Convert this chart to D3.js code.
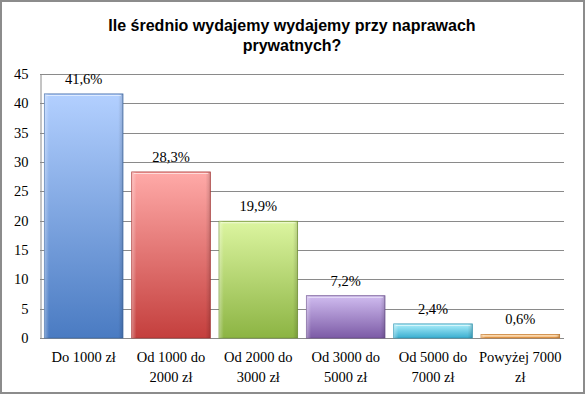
<!DOCTYPE html>
<html>
<head>
<meta charset="utf-8">
<script src="https://cdn.jsdelivr.net/npm/d3@7"></script>
<style>
  body { margin: 0; background: #fff; }
  svg { display: block; }
</style>
</head>
<body>
<div id="chart"></div>
<script>
// dane
const categories = ["Do 1000 zł", "Od 1000 do 2000 zł", "Od 2000 do 3000 zł", "Od 3000 do 5000 zł", "Od 5000 do 7000 zł", "Powyżej 7000 zł"];
const catLines = [["Do 1000 zł"], ["Od 1000 do", "2000 zł"], ["Od 2000 do", "3000 zł"], ["Od 3000 do", "5000 zł"], ["Od 5000 do", "7000 zł"], ["Powyżej 7000", "zł"]];
const values = [41.6, 28.3, 19.9, 7.2, 2.4, 0.6];
const valueLabels = ["41,6%", "28,3%", "19,9%", "7,2%", "2,4%", "0,6%"];
const yTicks = [0, 5, 10, 15, 20, 25, 30, 35, 40, 45];
const barColors = [
    ["#b3d0ff", "#4a7bc2"],
    ["#ffaaa8", "#c43f3d"],
    ["#dcf5a0", "#8cb443"],
    ["#d0bcf0", "#7c5ba6"],
    ["#aef0fc", "#3aaed0"],
    ["#ffd9a0", "#e89440"]
];

const width = 585, height = 394;
const margin = { top: 74, right: 21, bottom: 56, left: 40 };

const svg = d3.select("#chart").append("svg")
    .attr("width", width)
    .attr("height", height);

// ramka
svg.append("rect")
    .attr("x", 1).attr("y", 1)
    .attr("width", width - 2).attr("height", height - 2)
    .attr("fill", "#fff")
    .attr("stroke", "#8c8c8c")
    .attr("stroke-width", 2);

// tytuł
const title = svg.append("text")
    .attr("text-anchor", "middle")
    .attr("font-family", "Liberation Sans, Arial, sans-serif")
    .attr("font-weight", "bold")
    .attr("font-size", 16)
    .attr("fill", "#000");
title.append("tspan").attr("x", 292).attr("y", 31).text("Ile średnio wydajemy wydajemy przy naprawach");
title.append("tspan").attr("x", 292).attr("y", 51).text("prywatnych?");

const x = d3.scaleBand()
    .domain(categories)
    .range([margin.left, width - margin.right])
    .paddingInner(0.1)
    .paddingOuter(0.05);

const y = d3.scaleLinear()
    .domain([0, 45])
    .range([height - margin.bottom, margin.top]);

// gradienty
const defs = svg.append("defs");
barColors.forEach((c, i) => {
    const g = defs.append("linearGradient")
        .attr("id", "grad" + i)
        .attr("x1", 0).attr("y1", 0).attr("x2", 0).attr("y2", 1);
    g.append("stop").attr("offset", "0%").attr("stop-color", c[0]);
    g.append("stop").attr("offset", "100%").attr("stop-color", c[1]);
    const h = defs.append("linearGradient")
        .attr("id", "edge" + i)
        .attr("x1", 0).attr("y1", 0).attr("x2", 1).attr("y2", 0);
    h.append("stop").attr("offset", "0%").attr("stop-color", "#fff").attr("stop-opacity", 0.35);
    h.append("stop").attr("offset", "6%").attr("stop-color", "#fff").attr("stop-opacity", 0);
    h.append("stop").attr("offset", "94%").attr("stop-color", "#000").attr("stop-opacity", 0);
    h.append("stop").attr("offset", "100%").attr("stop-color", "#000").attr("stop-opacity", 0.15);
});

// siatka
svg.append("g")
    .selectAll("line")
    .data(yTicks)
    .join("line")
    .attr("x1", margin.left)
    .attr("x2", width - margin.right)
    .attr("y1", d => Math.round(y(d)) + 0.5)
    .attr("y2", d => Math.round(y(d)) + 0.5)
    .attr("stroke", "#8a8a8a")
    .attr("stroke-width", 1);

// oś Y
const yAxis = svg.append("g")
    .attr("transform", `translate(${margin.left + 0.5},0)`)
    .call(d3.axisLeft(y).tickValues(yTicks).tickSize(0).tickPadding(12));
yAxis.select(".domain").attr("stroke", "#8a8a8a");
yAxis.selectAll("text")
    .attr("font-family", "Liberation Serif, Cambria, serif")
    .attr("font-size", 14.5)
    .attr("fill", "#000");

// słupki
const bars = svg.append("g").selectAll("g")
    .data(values)
    .join("g");

bars.append("rect")
    .attr("x", (d, i) => x(categories[i]))
    .attr("y", d => y(d))
    .attr("width", x.bandwidth())
    .attr("height", d => y(0) - y(d))
    .attr("fill", (d, i) => `url(#grad${i})`)
    .attr("stroke", (d, i) => d3.color(barColors[i][1]).darker(0.4))
    .attr("stroke-width", 0.8);

bars.append("rect")
    .attr("x", (d, i) => x(categories[i]))
    .attr("y", d => y(d))
    .attr("width", x.bandwidth())
    .attr("height", d => y(0) - y(d))
    .attr("fill", (d, i) => `url(#edge${i})`);

bars.append("line")
    .attr("x1", (d, i) => x(categories[i]) + 2)
    .attr("x2", (d, i) => x(categories[i]) + x.bandwidth() - 2)
    .attr("y1", d => y(d) + 1.5)
    .attr("y2", d => y(d) + 1.5)
    .attr("stroke", "#fff")
    .attr("stroke-opacity", 0.6)
    .attr("stroke-width", 1);

// etykiety wartości
svg.append("g").selectAll("text")
    .data(values)
    .join("text")
    .attr("x", (d, i) => x(categories[i]) + x.bandwidth() / 2)
    .attr("y", d => y(d) - 10)
    .attr("text-anchor", "middle")
    .attr("font-family", "Liberation Serif, Cambria, serif")
    .attr("font-size", 14.5)
    .attr("fill", "#000")
    .text((d, i) => valueLabels[i]);

// etykiety kategorii
const catText = svg.append("g").selectAll("text")
    .data(categories)
    .join("text")
    .attr("text-anchor", "middle")
    .attr("font-family", "Liberation Serif, Cambria, serif")
    .attr("font-size", 14.5)
    .attr("fill", "#000");
catText.each(function(d, i) {
    const t = d3.select(this);
    catLines[i].forEach((line, j) => {
        t.append("tspan")
            .attr("x", x(d) + x.bandwidth() / 2)
            .attr("y", 362 + j * 20)
            .text(line);
    });
});
</script>
</body>
</html>
